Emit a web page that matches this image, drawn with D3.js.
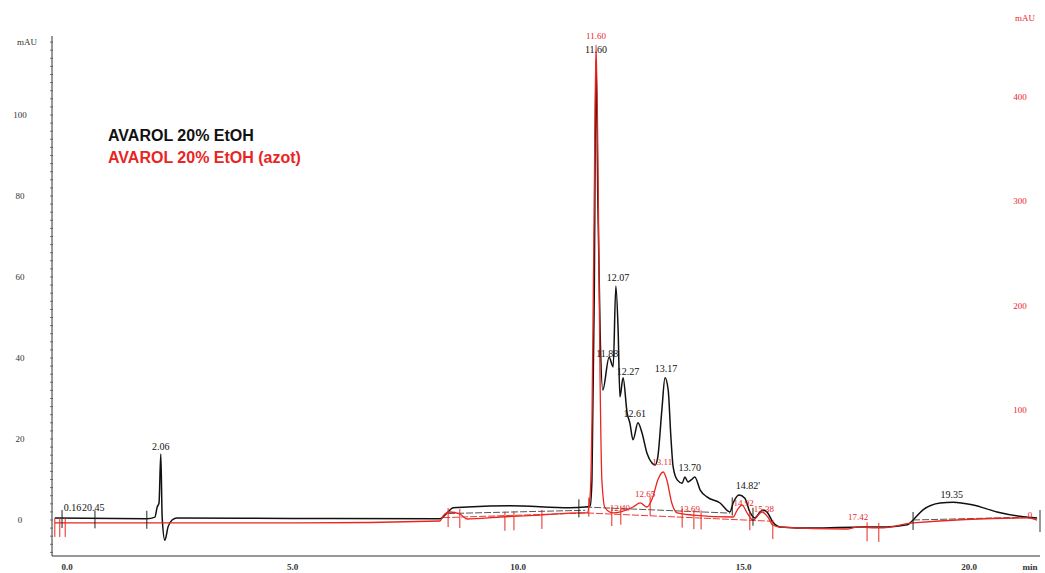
<!DOCTYPE html>
<html><head><meta charset="utf-8">
<script src="https://cdn.jsdelivr.net/npm/d3@7"></script>
<style>body{margin:0;background:#fff}svg{display:block}</style>
</head><body>
<svg id="c" width="1045" height="573"></svg>
<script>
// ---- data ----
const blackTime = [-0.27,1.77,1.95,2.00,2.04,2.08,2.11,2.17,2.24,2.33,2.44,5.0,8.27,8.45,8.56,8.87,9.82,11.15,11.49,11.60,11.64,11.69,11.73,11.77,11.82,11.88,12.02,12.11,12.17,12.22,12.26,12.33,12.42,12.48,12.55,12.66,12.75,12.86,12.97,13.04,13.10,13.19,13.26,13.33,13.39,13.44,13.53,13.64,13.70,13.77,13.84,13.92,14.04,14.19,14.48,14.70,14.77,14.90,15.03,15.14,15.25,15.37,15.43,15.52,15.65,15.81,16.54,17.65,18.18,18.63,18.76,18.98,19.36,19.65,20.09,20.62,21.29,21.51];
const blackAbs  = [0.5,0.3,0.7,3.2,4.2,16.3,0.7,-5.0,-1.7,0.0,0.5,0.4,0.3,2.0,3.0,3.2,3.5,3.0,3.2,3.5,9.9,54.3,113.6,79.0,46.9,32.1,40.2,37.8,57.8,46.9,30.4,35.1,26.4,24.0,19.8,24.0,21.5,16.5,14.1,13.6,15.6,27.2,35.1,32.1,20.5,13.1,9.9,9.1,10.6,9.4,9.9,10.6,7.4,5.7,4.2,2.0,4.2,6.2,5.4,2.0,0.5,2.0,2.5,2.0,-0.5,-1.7,-2.0,-1.7,-1.7,-1.2,0.0,2.5,4.2,4.4,3.7,2.0,0.7,0.5];

const redTime = [-0.27,1.84,5.17,8.27,8.34,8.49,8.71,8.87,9.60,10.49,11.37,11.53,11.60,11.64,11.69,11.73,11.77,11.82,11.86,11.93,12.11,12.55,12.71,12.86,12.99,13.10,13.22,13.30,13.41,13.53,13.88,14.77,14.86,14.97,15.08,15.21,15.41,15.54,15.65,15.81,17.29,17.52,18.03,18.76,21.29,21.51];
const redAbs  = [-8.6,-8.6,-8.6,-6.7,-1.9,1.9,0.0,-4.8,-2.9,-1.0,1.0,1.0,18.2,90.2,301.2,449.9,349.2,128.5,32.6,5.8,1.0,6.7,10.6,6.7,16.3,32.6,40.3,32.6,10.6,1.0,-1.0,-2.9,3.8,8.6,1.0,-5.8,1.9,-2.9,-10.6,-12.5,-14.4,-12.5,-13.4,-8.6,-3.8,-5.8];

// peak labels
const blackLabelText = ["2.06","11.60","11.88","12.07","12.27","12.61","13.17","13.70","14.82'","19.35","0.16","20.45"];
const blackLabelTime = [2.08,11.73,11.98,12.22,12.44,12.59,13.28,13.81,15.10,19.62,0.12,0.58];
const blackLabelAbs  = [16.3,114.3,39.3,58.0,34.8,24.4,35.6,11.1,6.7,4.4,1.2,1.2];
const redLabelText = ["11.60","12.65","13.11","12.40","13.69","14.92","15.38","17.42","0"];
const redLabelTime = [11.73,12.82,13.20,12.26,13.81,15.00,15.45,17.54,21.35];
const redLabelAbs  = [451.8,12.5,43.2,-1.0,-2.0,4.0,-2.0,-9.6,-8.0];

// integration marks (retention times)
const blackMarks = [-0.11,0.62,1.77,11.35,14.75,15.21,18.76];
const redMarks = [-0.27,-0.16,-0.04,8.45,8.71,9.71,9.91,10.53,11.57,12.08,12.28,12.93,13.64,13.90,14.06,15.14,15.65,17.74,18.0];

// baselines drawn by the integrator
const blackBaseT = [[11.49,14.70],[18.76,21.29],[8.45,11.49]];
const blackBaseV = [[3.2,1.7],[0.0,0.7],[1.6,2.4]];
const redBaseT = [[8.34,11.53],[11.53,15.65]];
const redBaseV = [[-3.5,1.0],[1.0,-7.0]];

const xTicks = [0,5,10,15,20];
const xTickLabels = ["0.0","5.0","10.0","15.0","20.0"];
const leftTicks = [0,20,40,60,80,100];
const rightTicks = [100,200,300,400];
const legendNames = ["AVAROL 20% EtOH","AVAROL 20% EtOH (azot)"];
const colors = ["#111","#e8261f"];

// ---- scales ----
const svg = d3.select("#c");
const x = d3.scaleLinear().domain([0,20]).range([67,969]);
const yL = d3.scaleLinear().domain([0,100]).range([520,115]);
const yR = d3.scaleLinear().domain([0,400]).range([514,97]);
const axisY = 556, axisX = 52;

// left axis
svg.append("line").attr("x1",axisX).attr("x2",axisX).attr("y1",36).attr("y2",axisY)
  .attr("stroke","#333").attr("stroke-width",1);
svg.append("g").selectAll("line").data(d3.range(-8,120,2)).join("line")
  .attr("x1",axisX-2).attr("x2",axisX+1).attr("y1",d=>yL(d)).attr("y2",d=>yL(d))
  .attr("stroke","#555").attr("stroke-width",0.8);
svg.append("g").selectAll("text").data(leftTicks).join("text")
  .attr("x",20).attr("y",d=>yL(d)+3).attr("text-anchor","middle")
  .attr("font-family","Liberation Serif").attr("font-size",9).attr("fill","#333").text(d=>d);
svg.append("text").attr("x",27).attr("y",45).attr("text-anchor","middle")
  .attr("font-family","Liberation Serif").attr("font-size",9).attr("fill","#333").text("mAU");

// right axis labels
svg.append("g").selectAll("text").data(rightTicks).join("text")
  .attr("x",1020).attr("y",d=>yR(d)+3).attr("text-anchor","middle")
  .attr("font-family","Liberation Serif").attr("font-size",9).attr("fill",colors[1]).text(d=>d);
svg.append("text").attr("x",1025).attr("y",21).attr("text-anchor","middle")
  .attr("font-family","Liberation Serif").attr("font-size",9).attr("fill",colors[1]).text("mAU");

// bottom axis
svg.append("line").attr("x1",axisX).attr("x2",1040).attr("y1",axisY).attr("y2",axisY)
  .attr("stroke","#333").attr("stroke-width",1.2);
svg.append("line").attr("x1",1040).attr("x2",1040).attr("y1",510).attr("y2",532)
  .attr("stroke","#333").attr("stroke-width",1);
svg.append("g").selectAll("text").data(xTicks).join("text")
  .attr("x",d=>x(d)).attr("y",570).attr("text-anchor","middle")
  .attr("font-family","Liberation Serif").attr("font-weight","bold").attr("font-size",9).attr("fill","#333")
  .text((d,i)=>xTickLabels[i]);
svg.append("text").attr("x",1030).attr("y",570).attr("text-anchor","middle")
  .attr("font-family","Liberation Serif").attr("font-weight","bold").attr("font-size",9).attr("fill","#333").text("min");

// helper: interpolate trace value at time
function valAt(T,V,t){
  const i = d3.bisectLeft(T,t);
  if(i<=0) return V[0]; if(i>=T.length) return V[V.length-1];
  const f=(t-T[i-1])/(T[i]-T[i-1]); return V[i-1]+f*(V[i]-V[i-1]);
}

// baselines
blackBaseT.forEach((tt,k)=>svg.append("line").attr("x1",x(tt[0])).attr("x2",x(tt[1]))
  .attr("y1",yL(blackBaseV[k][0])).attr("y2",yL(blackBaseV[k][1])).attr("stroke","#444").attr("stroke-width",0.9).attr("stroke-dasharray","7,2"));
redBaseT.forEach((tt,k)=>svg.append("line").attr("x1",x(tt[0])).attr("x2",x(tt[1]))
  .attr("y1",yR(redBaseV[k][0])).attr("y2",yR(redBaseV[k][1])).attr("stroke",colors[1]).attr("stroke-width",0.9).attr("stroke-dasharray","7,2"));

// traces
const lineB = d3.line().curve(d3.curveMonotoneX).x((d,i)=>x(blackTime[i])).y(d=>yL(d));
const lineR = d3.line().curve(d3.curveMonotoneX).x((d,i)=>x(redTime[i])).y(d=>yR(d));
svg.append("path").attr("d",lineB(blackAbs)).attr("fill","none").attr("stroke",colors[0]).attr("stroke-width",1.5).attr("stroke-linejoin","round");
svg.append("path").attr("d",lineR(redAbs)).attr("fill","none").attr("stroke",colors[1]).attr("stroke-width",1.3).attr("stroke-linejoin","round");

// integration marks
svg.append("g").selectAll("line").data(blackMarks).join("line")
  .attr("x1",d=>x(d)).attr("x2",d=>x(d))
  .attr("y1",d=>yL(valAt(blackTime,blackAbs,d))-8).attr("y2",d=>yL(valAt(blackTime,blackAbs,d))+10)
  .attr("stroke","#222").attr("stroke-width",1);
svg.append("g").selectAll("line").data(redMarks).join("line")
  .attr("x1",d=>x(d)).attr("x2",d=>x(d))
  .attr("y1",d=>yR(valAt(redTime,redAbs,d))-5).attr("y2",d=>yR(valAt(redTime,redAbs,d))+14)
  .attr("stroke",colors[1]).attr("stroke-width",1);

// labels
svg.append("g").selectAll("text").data(blackLabelText).join("text")
  .attr("x",(d,i)=>x(blackLabelTime[i])).attr("y",(d,i)=>yL(blackLabelAbs[i])-4)
  .attr("text-anchor","middle").attr("font-family","Liberation Serif").attr("font-size",10)
  .attr("fill","#111").text(d=>d);
svg.append("g").selectAll("text").data(redLabelText).join("text")
  .attr("x",(d,i)=>x(redLabelTime[i])).attr("y",(d,i)=>yR(redLabelAbs[i])-4)
  .attr("text-anchor","middle").attr("font-family","Liberation Serif").attr("font-size",9)
  .attr("fill",colors[1]).text(d=>d);

// legend
svg.append("g").selectAll("text").data(legendNames).join("text")
  .attr("x",108).attr("y",(d,i)=>141+i*22)
  .attr("font-family","Liberation Sans").attr("font-weight","bold").attr("font-size",16)
  .attr("fill",(d,i)=>colors[i]).text(d=>d);
</script>
</body></html>
